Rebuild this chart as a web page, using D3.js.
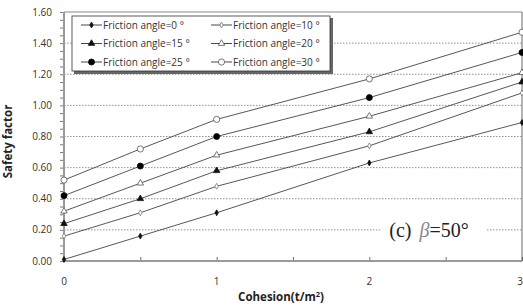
<!DOCTYPE html>
<html>
<head>
<meta charset="utf-8">
<script src="https://cdn.jsdelivr.net/npm/d3@7"></script>
<style>
  body { margin: 0; background: #fff; }
  text { font-family: "Open Sans", "Noto Sans", sans-serif; fill: #333; }
</style>
</head>
<body>
<svg id="chart"></svg>
<script>
// cohesion values (t/m2)
var cohesion = [0, 0.5, 1, 2, 3];

var seriesNames = ["Friction angle=0 °", "Friction angle=10 °", "Friction angle=15 °",
                   "Friction angle=20 °", "Friction angle=25 °", "Friction angle=30 °"];

var fa0  = [0.01, 0.16, 0.31, 0.63, 0.89];
var fa10 = [0.16, 0.31, 0.48, 0.74, 1.08];
var fa15 = [0.24, 0.40, 0.58, 0.83, 1.15];
var fa20 = [0.32, 0.50, 0.68, 0.93, 1.21];
var fa25 = [0.42, 0.61, 0.80, 1.05, 1.34];
var fa30 = [0.52, 0.72, 0.91, 1.17, 1.47];

var yTicks = [0, 0.2, 0.4, 0.6, 0.8, 1.0, 1.2, 1.4, 1.6];
var xTicks = [0, 1, 2, 3];

var allSeries = [fa0, fa10, fa15, fa20, fa25, fa30];
var markers = ["diamondFill", "diamondOpen", "triFill", "triOpen", "circFill", "circOpen"];

var W = 523, H = 308;
var margin = { top: 12, right: 1, bottom: 47, left: 64 },
    width = W - margin.left - margin.right,
    height = H - margin.top - margin.bottom;

var x = d3.scaleLinear().domain([0, 3]).range([0, width]);
var y = d3.scaleLinear().domain([0, 1.6]).range([height, 0]);

var svg = d3.select("#chart")
    .attr("width", W)
    .attr("height", H)
    .append("g")
    .attr("transform", "translate(" + margin.left + "," + margin.top + ")");

// dotted gridlines
svg.selectAll(".grid")
    .data(yTicks.filter(function (d) { return d > 0 && d < 1.6; }))
    .enter().append("line")
    .attr("x1", 0).attr("x2", width)
    .attr("y1", function (d) { return y(d); })
    .attr("y2", function (d) { return y(d); })
    .style("stroke", "#777")
    .style("stroke-width", 0.8)
    .style("stroke-dasharray", "1.5,1.5");

// frame (top, right)
svg.append("line").attr("x1", 0).attr("x2", width).attr("y1", 0).attr("y2", 0)
    .style("stroke", "#888").style("stroke-width", 1);
svg.append("line").attr("x1", width).attr("x2", width).attr("y1", 0).attr("y2", height)
    .style("stroke", "#999").style("stroke-width", 1.5);

// y axis: minor ticks every 0.05
var yAxis = d3.axisLeft(y)
    .tickValues(d3.range(0, 1.6001, 0.05))
    .tickSize(4)
    .tickFormat(function (d) { return ""; });
var gy = svg.append("g").attr("class", "y axis").call(yAxis);
gy.select(".domain").remove();
gy.selectAll("line").style("stroke", "#555").style("stroke-width", 0.8);

svg.selectAll(".ylab")
    .data(yTicks)
    .enter().append("text")
    .attr("x", -12)
    .attr("y", function (d) { return y(d); })
    .attr("dy", "0.35em")
    .attr("text-anchor", "end")
    .style("font-size", "10px")
    .text(d3.format(".2f"));

svg.append("line").attr("x1", 0).attr("x2", 0).attr("y1", 0).attr("y2", height)
    .style("stroke", "#999").style("stroke-width", 2);

// x axis: ticks every 0.5 pointing up
var xAxis = d3.axisBottom(x)
    .tickValues(d3.range(0, 3.001, 0.5))
    .tickSize(-4)
    .tickFormat(function (d) { return ""; });
var gx = svg.append("g").attr("class", "x axis")
    .attr("transform", "translate(0," + height + ")")
    .call(xAxis);
gx.select(".domain").remove();
gx.selectAll("line").style("stroke", "#444").style("stroke-width", 0.8);
svg.append("line").attr("x1", 0).attr("x2", width).attr("y1", height).attr("y2", height)
    .style("stroke", "#999").style("stroke-width", 2);

svg.selectAll(".xlab")
    .data(xTicks)
    .enter().append("text")
    .attr("x", function (d) { return d === 3 ? x(d) + 1 : x(d); })
    .attr("y", height + 24)
    .attr("text-anchor", function (d) { return d === 3 ? "end" : "middle"; })
    .style("font-size", "10px")
    .text(function (d) { return d; });

// axis titles
svg.append("text")
    .attr("transform", "translate(" + (-52) + "," + (height / 2 + 5) + ") rotate(-90)")
    .attr("text-anchor", "middle")
    .style("font-size", "11.5px")
    .style("font-weight", "bold")
    .style("fill", "#222")
    .text("Safety factor");

var xt = svg.append("text")
    .attr("x", 217)
    .attr("y", height + 40)
    .attr("text-anchor", "middle")
    .style("font-size", "11.5px")
    .style("font-weight", "bold")
    .style("fill", "#222");
xt.append("tspan").text("Cohesion(t/m");
xt.append("tspan").attr("dy", -4).style("font-size", "7.5px").text("2");
xt.append("tspan").attr("dy", 4).text(")");

// marker drawing
function drawMarker(sel, type) {
    if (type === "diamondFill" || type === "diamondOpen") {
        sel.append("path").attr("d", d3.symbol().type(d3.symbolDiamond).size(10)())
            .style("fill", type === "diamondFill" ? "#111" : "#fff")
            .style("stroke", type === "diamondFill" ? "#111" : "#777")
            .style("stroke-width", 0.8);
    } else if (type === "triFill" || type === "triOpen") {
        sel.append("path").attr("d", d3.symbol().type(d3.symbolTriangle).size(18)())
            .style("fill", type === "triFill" ? "#111" : "#fff")
            .style("stroke", type === "triFill" ? "#111" : "#555")
            .style("stroke-width", 0.8);
    } else {
        sel.append("circle").attr("r", type === "circFill" ? 3 : 3.1)
            .style("fill", type === "circFill" ? "#000" : "#fff")
            .style("stroke", type === "circFill" ? "#000" : "#555")
            .style("stroke-width", 0.8);
    }
}

var line = d3.line()
    .x(function (d, i) { return x(cohesion[i]); })
    .y(function (d) { return y(d); });

allSeries.forEach(function (s, k) {
    svg.append("path")
        .datum(s)
        .attr("d", line)
        .style("fill", "none")
        .style("stroke", "#444")
        .style("stroke-width", 0.9);

    s.forEach(function (v, i) {
        var g = svg.append("g")
            .attr("transform", "translate(" + x(cohesion[i]) + "," + y(v) + ")");
        drawMarker(g, markers[k]);
    });
});

// legend
var lg = svg.append("g").attr("transform", "translate(8,4)");
lg.append("rect").attr("x", 2).attr("y", 2).attr("width", 259).attr("height", 56)
    .style("fill", "#666");
lg.append("rect").attr("x", 0).attr("y", 0).attr("width", 258).attr("height", 55)
    .style("fill", "#fff").style("stroke", "#333").style("stroke-width", 0.8);

seriesNames.forEach(function (name, k) {
    var col = k % 2, row = Math.floor(k / 2);
    var item = lg.append("g")
        .attr("transform", "translate(" + (9 + col * 130) + "," + (9 + row * 18.5) + ")");
    item.append("line").attr("x1", 0).attr("x2", 21).attr("y1", 0).attr("y2", 0)
        .style("stroke", "#333").style("stroke-width", 0.9);
    drawMarker(item.append("g").attr("transform", "translate(10.5,0)"), markers[k]);
    item.append("text")
        .attr("x", 22)
        .attr("dy", "0.35em")
        .style("font-size", "10px")
        .text(name);
});

// annotation
var ann = svg.append("g").attr("transform", "translate(" + (x(2) + 11) + "," + y(0.2) + ")");
ann.append("rect").attr("x", 0).attr("y", -15).attr("width", 106).attr("height", 30)
    .style("fill", "#fff");
var at = ann.append("text")
    .attr("x", 9)
    .attr("dy", "0.35em")
    .style("font-family", "'Liberation Serif', 'DejaVu Serif', serif")
    .style("font-size", "20px")
    .style("fill", "#222");
at.append("tspan").text("(c)");
at.append("tspan").attr("dx", 8).style("font-style", "italic").style("fill", "#888").text("β");
at.append("tspan").text("=50°");
</script>
</body>
</html>
